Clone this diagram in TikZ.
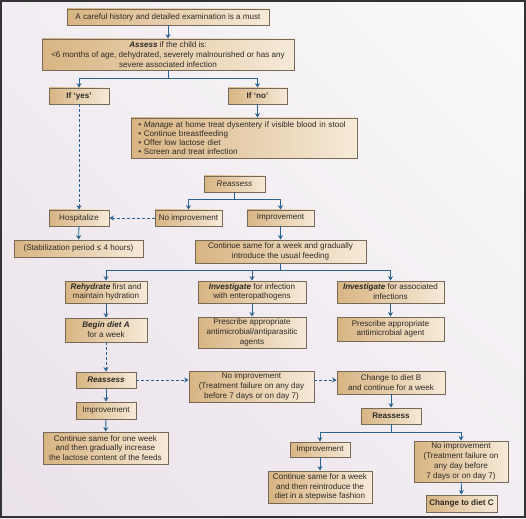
\documentclass[tikz,border=0pt]{standalone}
\usepackage{fontspec}
\setmainfont{Liberation Sans}
\usetikzlibrary{arrows.meta,shadings}
\definecolor{boxL}{HTML}{D8B482}
\definecolor{boxR}{HTML}{F6EAD8}
\definecolor{boxD}{HTML}{76695A}
\definecolor{arrB}{HTML}{2B6390}
\definecolor{txt}{HTML}{2E2A26}
\definecolor{bgA}{HTML}{FAF9FB}
\definecolor{bgB}{HTML}{EBE2EA}
\definecolor{bgC}{HTML}{F1EDF2}
\tikzset{
  bx/.style={draw=boxD, line width=0.8pt, left color=boxL, right color=boxR,
    inner sep=1pt, align=center, text=txt, font=\fontsize{8.1}{9.8}\selectfont,
    minimum width=#1},
  bx/.default=60pt,
  arr/.style={draw=arrB, line width=0.9pt, -{Stealth[length=4.5pt,width=5pt]}},
  ln/.style={draw=arrB, line width=0.9pt},
  darr/.style={arr, dash pattern=on 3pt off 2pt},
}
\begin{document}
\begin{tikzpicture}[x=1pt,y=-1pt]
\useasboundingbox (0,0) rectangle (526,518);
\shade[upper left=bgC, upper right=bgA, lower left=bgB, lower right=bgC] (0,0) rectangle (526,518);
\draw[line width=2pt, draw=black!80] (1,1) rectangle (525,517);

\node[bx=202pt, minimum height=16pt] (top) at (168,17) {A careful history and detailed examination is a must};
\node[bx=252pt, minimum height=31pt] (assess) at (168,54.5) {\textbf{\textit{Assess}} if the child is:\\<6 months of age, dehydrated, severely malnourished or has any\\severe associated infection};
\node[bx=60pt, minimum height=16pt] (yes) at (79,96) {\textbf{If ‘yes’}};
\node[bx=59pt, minimum height=16pt] (no) at (257.5,96) {\textbf{If ‘no’}};
\node[bx=226pt, minimum height=40pt, text width=214pt, align=left, inner xsep=6pt, font=\fontsize{8.1}{9.2}\selectfont] (manage) at (244,138)
  {\,• \textit{Manage} at home treat dysentery if visible blood in stool\\\,• Continue breastfeeding\\\,• Offer low lactose diet\\\,• Screen and treat infection};
\node[bx=61pt, minimum height=16pt] (re1) at (234.5,184) {\textit{Reassess}};
\node[bx=60pt, minimum height=16pt] (hosp) at (79,218) {Hospitalize};
\node[bx=67pt, minimum height=16pt] (noimp1) at (188.5,218) {No improvement};
\node[bx=67pt, minimum height=16pt] (imp1) at (280.5,218) {Improvement};
\node[bx=129pt, minimum height=17pt] (stab) at (78.5,248.5) {(Stabilization period ≤ 4 hours)};
\node[bx=171pt, minimum height=23pt] (cont1) at (280.5,251.5) {Continue same for a week and gradually\\introduce the usual feeding};
\node[bx=82pt, minimum height=22pt] (rehyd) at (106,292) {\textbf{\textit{Rehydrate}} first and\\maintain hydration};
\node[bx=108pt, minimum height=22pt] (inv1) at (252,292) {\textbf{\textit{Investigate}} for infection\\with enteropathogens};
\node[bx=107pt, minimum height=22pt] (inv2) at (390.5,292) {\textbf{\textit{Investigate}} for associated\\infections};
\node[bx=82pt, minimum height=24pt] (dietA) at (106,330) {\textbf{\textit{Begin diet A}}\\for a week};
\node[bx=108pt, minimum height=31pt] (pre1) at (252,332.5) {Prescribe appropriate\\antimicrobial/antiparasitic\\agents};
\node[bx=107pt, minimum height=24pt] (pre2) at (390.5,329) {Prescribe appropriate\\antimicrobial agent};
\node[bx=60pt, minimum height=16pt] (re2) at (106,380) {\textbf{\textit{Reassess}}};
\node[bx=125pt, minimum height=31pt] (noimp2) at (251.5,386.5) {No improvement\\(Treatment failure on any day\\before 7 days or on day 7)};
\node[bx=108pt, minimum height=23pt] (dietB) at (391,382.5) {Change to diet B\\and continue for a week};
\node[bx=60pt, minimum height=17pt] (imp2) at (106,410.5) {Improvement};
\node[bx=125pt, minimum height=32pt] (cont2) at (105.5,448) {Continue same for one week\\and then gradually increase\\the lactose content of the feeds};
\node[bx=60pt, minimum height=16pt] (re3) at (391,416) {\textbf{Reassess}};
\node[bx=60pt, minimum height=15pt] (imp3) at (320,449.5) {Improvement};
\node[bx=94pt, minimum height=41pt] (noimp3) at (461,461.5) {No improvement\\(Treatment failure on\\any day before\\7 days or on day 7)};
\node[bx=104pt, minimum height=32pt] (cont3) at (320,487) {Continue same for a week\\and then reintroduce the\\diet in a stepwise fashion};
\node[bx=71pt, minimum height=17pt] (dietC) at (461.5,503.5) {\textbf{Change to diet C}};

% branch points
\coordinate (b1) at (168,78);
\coordinate (b2) at (234.5,199);
\coordinate (b3) at (280.5,270);
\coordinate (b4) at (391,432);

\draw[arr] (top) -- (assess);
\draw[ln] (assess.south) -- (b1);
\draw[arr] (b1) -| (yes.north);
\draw[arr] (b1) -| (no.north);
\draw[arr] (no.south) -- (no.south |- manage.north);
\draw[darr] (yes) -- (hosp);
\draw[ln] (re1.south) -- (b2);
\draw[arr] (b2) -| (noimp1.north);
\draw[arr] (b2) -| (imp1.north);
\draw[darr] (noimp1) -- (hosp);
\draw[arr] (hosp) -- (stab);
\draw[arr] (imp1) -- (cont1);
\draw[ln] (cont1.south) -- (b3);
\draw[arr] (b3) -| (rehyd.north);
\draw[arr] (b3) -| (inv1.north);
\draw[arr] (b3) -| (inv2.north);
\draw[arr] (rehyd) -- (dietA);
\draw[arr] (inv1) -- (pre1);
\draw[arr] (inv2) -- (pre2);
\draw[darr] (dietA) -- (re2);
\draw[darr] (re2.east) -- (re2.east -| noimp2.west);
\draw[darr] (noimp2.east |- re2.east) -- (dietB.west |- re2.east);
\draw[arr] (re2) -- (imp2);
\draw[arr] (imp2) -- (cont2);
\draw[arr] (dietB) -- (re3);
\draw[ln] (re3.south) -- (b4);
\draw[arr] (b4) -| (imp3.north);
\draw[arr] (b4) -| (noimp3.north);
\draw[arr] (imp3) -- (cont3);
\draw[arr] (noimp3) -- (dietC);
\end{tikzpicture}
\end{document}
